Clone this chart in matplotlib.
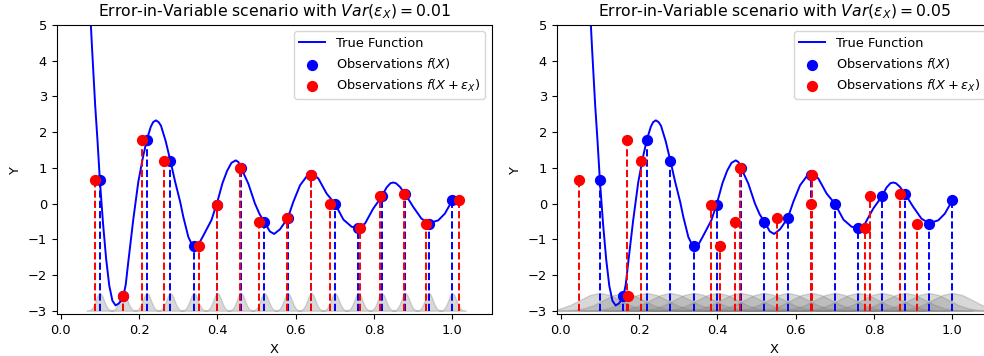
import numpy as np
import matplotlib.pyplot as plt

plt.rcParams['font.size'] = 9.35
plt.rcParams['lines.linewidth'] = 1.4

# true function
curve_x = [0.077, 0.080, 0.084, 0.088, 0.094, 0.100, 0.108, 0.116, 0.124, 0.132,
           0.140, 0.148, 0.154, 0.160, 0.166, 0.173, 0.185, 0.198, 0.210, 0.220,
           0.230, 0.236, 0.243, 0.250, 0.256, 0.268, 0.280, 0.292, 0.305, 0.313,
           0.326, 0.334, 0.343, 0.350, 0.364, 0.385, 0.400, 0.413, 0.425, 0.436,
           0.447, 0.454, 0.460, 0.479, 0.496, 0.508, 0.520, 0.534, 0.545, 0.560,
           0.580, 0.594, 0.611, 0.628, 0.634, 0.641, 0.648, 0.658, 0.679, 0.700,
           0.722, 0.743, 0.760, 0.777, 0.798, 0.820, 0.832, 0.842, 0.849, 0.856,
           0.866, 0.880, 0.900, 0.921, 0.940, 0.964, 0.981, 1.000]
curve_y = [5.00, 4.35, 3.55, 2.75, 1.75, 0.65, -0.55, -1.55, -2.30, -2.72,
           -2.85, -2.80, -2.72, -2.59, -2.27, -1.59, -0.47, 0.60, 1.30, 1.79,
           2.15, 2.28, 2.33, 2.28, 2.18, 1.75, 1.20, 0.62, 0.05, -0.37,
           -0.94, -1.12, -1.22, -1.18, -0.90, -0.46, 0.05, 0.57, 0.92, 1.14,
           1.21, 1.16, 1.01, 0.56, 0.00, -0.30, -0.51, -0.78, -0.85, -0.72,
           -0.40, 0.05, 0.51, 0.76, 0.80, 0.81, 0.79, 0.70, 0.28, 0.00,
           -0.45, -0.65, -0.68, -0.56, -0.14, 0.20, 0.45, 0.57, 0.59, 0.57,
           0.47, 0.26, -0.09, -0.42, -0.55, -0.47, -0.28, 0.09]

# observations
obs_x = [0.10, 0.16, 0.22, 0.28, 0.34, 0.40, 0.46, 0.52,
         0.58, 0.64, 0.70, 0.76, 0.82, 0.88, 0.94, 1.00]
obs_y = [0.65, -2.59, 1.79, 1.20, -1.20, -0.04, 1.01, -0.51,
         -0.40, 0.79, 0.00, -0.68, 0.20, 0.26, -0.56, 0.09]

# perturbed inputs X + eps
noisy_x_001 = [0.088, 0.158, 0.207, 0.264, 0.354, 0.398, 0.459, 0.506,
               0.577, 0.640, 0.687, 0.765, 0.815, 0.876, 0.934, 1.017]
noisy_x_005 = [0.046, 0.172, 0.169, 0.206, 0.408, 0.385, 0.458, 0.446,
               0.552, 0.642, 0.640, 0.777, 0.789, 0.866, 0.909, 1.096]

variances = [0.01, 0.05]
bump_sigma = [0.01, 0.05]

# bell shape used for the noise bumps (offsets in sigma, relative height)
bump_off = [-3.4, -3.0, -2.5, -2.0, -1.5, -1.0, -0.5, 0.0,
            0.5, 1.0, 1.5, 2.0, 2.5, 3.0, 3.4]
bump_h = [0.003, 0.011, 0.044, 0.135, 0.325, 0.607, 0.882, 1.0,
          0.882, 0.607, 0.325, 0.135, 0.044, 0.011, 0.003]
base = -3.0

fig = plt.figure(figsize=(9.84, 3.56), dpi=100)
W, H = 984, 356
ax1 = fig.add_axes([56.8 / W, (H - 314.3) / H, 434.7 / W, 289.3 / H])
ax2 = fig.add_axes([556.8 / W, (H - 314.3) / H, 434.7 / W, 289.3 / H])

for ax, var, sig, nx in zip([ax1, ax2], variances, bump_sigma,
                            [noisy_x_001, noisy_x_005]):
    ax.plot(curve_x, curve_y, color='blue', label='True Function')
    for xc in obs_x:
        bx = [xc + o * sig for o in bump_off]
        by = [base + 0.5 * h for h in bump_h]
        ax.fill_between(bx, base, by, color='gray', alpha=0.3)
    ax.vlines(obs_x, base, obs_y, colors='blue', linestyles='dashed')
    ax.vlines(nx, base, obs_y, colors='red', linestyles='dashed')
    ax.scatter(obs_x, obs_y, color='blue', s=50, zorder=3,
               label='Observations $f(X)$')
    ax.scatter(nx, obs_y, color='red', s=50, zorder=3,
               label=r'Observations $f(X + \epsilon_X)$')
    ax.set_xlim(-0.01, 1.1)
    ax.set_ylim(-3.1, 5)
    ax.set_xlabel('X')
    ax.set_ylabel('Y')
    ax.set_title(r'Error-in-Variable scenario with $Var(\epsilon_X) = %.2f$' % var)
    ax.legend(loc='upper right')

plt.savefig('out.png', dpi=100)
